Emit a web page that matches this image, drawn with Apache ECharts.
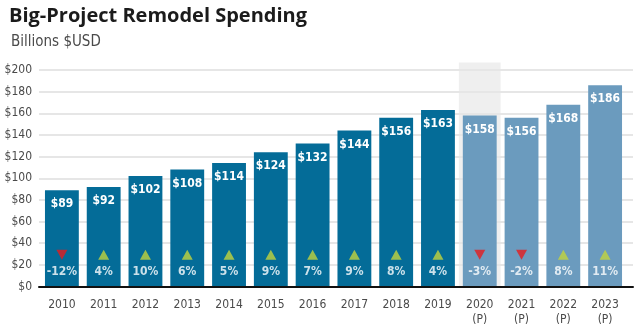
<!DOCTYPE html>
<html>
<head>
<meta charset="utf-8">
<script src="https://cdn.jsdelivr.net/npm/echarts@6/dist/echarts.min.js"></script>
<style>
  html, body { margin: 0; padding: 0; background: #ffffff; }
  #chart { width: 640px; height: 331px; }
</style>
</head>
<body>
<div id="chart"></div>
<script>
// Remodel spending by year, billions of US dollars
const years = ['2010', '2011', '2012', '2013', '2014', '2015', '2016', '2017', '2018', '2019', '2020', '2021', '2022', '2023'];
const projected = [false, false, false, false, false, false, false, false, false, false, true, true, true, true];
const spending = [89, 92, 102, 108, 114, 124, 132, 144, 156, 163, 158, 156, 168, 186];
const changePct = [-12, 4, 10, 6, 5, 9, 7, 9, 8, 4, -3, -2, 8, 11];
const yTicks = { min: 0, max: 200, step: 20 };
// shaded column behind the current year
const highlightYear = '2020';
const highlightTop = 207;
// height on the value axis where the change markers sit
const markerLevel = 29.4;

// narrow face for labels: the font-stretch keyword rides along in the weight slot
const condensed = '"DejaVu Sans Condensed", "DejaVu Sans", sans-serif';
const narrowNormal = 'normal condensed';
const narrowBold = 'bold condensed';
const actualColor = '#046c98';
const projectedColor = '#6b9bbe';
const upColor = '#c3d53c';
const downColor = '#e61b1e';

const chart = echarts.init(document.getElementById('chart'), null, { renderer: 'canvas' });

const categoryLabels = years.map((y, i) => projected[i] ? y + '\n(P)' : y);

chart.setOption({
  backgroundColor: '#ffffff',
  animation: false,
  title: [
    {
      text: 'Big-Project Remodel Spending',
      left: 4, top: 1,
      textStyle: { fontFamily: '"Open Sans", sans-serif', fontWeight: 'bold', fontSize: 20, color: '#1b1b1b' }
    },
    {
      text: 'Billions $USD',
      left: 6, top: 30,
      textStyle: { fontFamily: condensed, fontWeight: narrowNormal, fontSize: 15, color: '#4a4a4a' }
    }
  ],
  grid: [
    // bars
    { left: 41, right: 14, top: 70, bottom: 44.5, containLabel: false },
    // frame: gridlines and baseline run a little wider than the bars
    { left: 39, right: 7, top: 70, bottom: 44.5, containLabel: false }
  ],
  xAxis: [
    {
      type: 'category',
      gridIndex: 0,
      data: categoryLabels,
      axisLine: { show: false },
      axisTick: { show: false },
      axisLabel: {
        color: '#4a4a4a', fontFamily: condensed, fontWeight: narrowNormal, fontSize: 12,
        lineHeight: 15, margin: 11, interval: 0
      }
    },
    {
      type: 'category',
      gridIndex: 0,
      data: years,
      show: false
    },
    {
      type: 'value',
      gridIndex: 1,
      min: 0, max: 1,
      axisLine: { show: true, onZero: false, lineStyle: { color: '#111111', width: 2 } },
      axisTick: { show: false },
      axisLabel: { show: false },
      splitLine: { show: false },
      z: 5
    }
  ],
  yAxis: [
    {
      type: 'value',
      gridIndex: 0,
      min: yTicks.min, max: yTicks.max, interval: yTicks.step,
      axisLine: { show: false },
      axisTick: { show: false },
      axisLabel: {
        color: '#4a4a4a', fontFamily: condensed, fontWeight: narrowNormal, fontSize: 12, margin: 9,
        formatter: v => '$' + v
      },
      splitLine: { show: false }
    },
    {
      type: 'value',
      gridIndex: 1,
      min: yTicks.min, max: yTicks.max, interval: yTicks.step,
      axisLine: { show: false },
      axisTick: { show: false },
      axisLabel: { show: false },
      splitLine: { lineStyle: { color: '#e6e6e6', width: 2 } },
      z: 1
    }
  ],
  series: [
    {
      name: 'highlight',
      type: 'bar',
      xAxisIndex: 1,
      yAxisIndex: 0,
      barWidth: '100%',
      clip: false,
      silent: true,
      z: 0,
      itemStyle: { color: '#efefef' },
      data: years.map(y => y === highlightYear ? highlightTop : null)
    },
    {
      name: 'Spending',
      type: 'bar',
      xAxisIndex: 0,
      yAxisIndex: 0,
      barWidth: '81%',
      z: 2,
      data: spending.map((v, i) => ({
        value: v,
        itemStyle: { color: projected[i] ? projectedColor : actualColor }
      })),
      label: {
        show: true,
        position: 'insideTop',
        distance: 8,
        color: '#ffffff',
        fontFamily: condensed,
        fontWeight: narrowBold,
        fontSize: 12,
        formatter: p => '$' + p.value
      }
    },
    {
      name: 'Change',
      type: 'scatter',
      xAxisIndex: 0,
      yAxisIndex: 0,
      z: 4,
      symbol: 'triangle',
      symbolSize: [11, 10],
      data: changePct.map(c => ({
        value: markerLevel,
        symbolRotate: c < 0 ? 180 : 0,
        itemStyle: { color: c < 0 ? downColor : upColor }
      })),
      label: {
        show: true,
        position: 'bottom',
        distance: 6,
        color: '#ffffff',
        fontFamily: condensed,
        fontWeight: narrowBold,
        fontSize: 12,
        formatter: p => changePct[p.dataIndex] + '%'
      }
    }
  ]
});
</script>
</body>
</html>
